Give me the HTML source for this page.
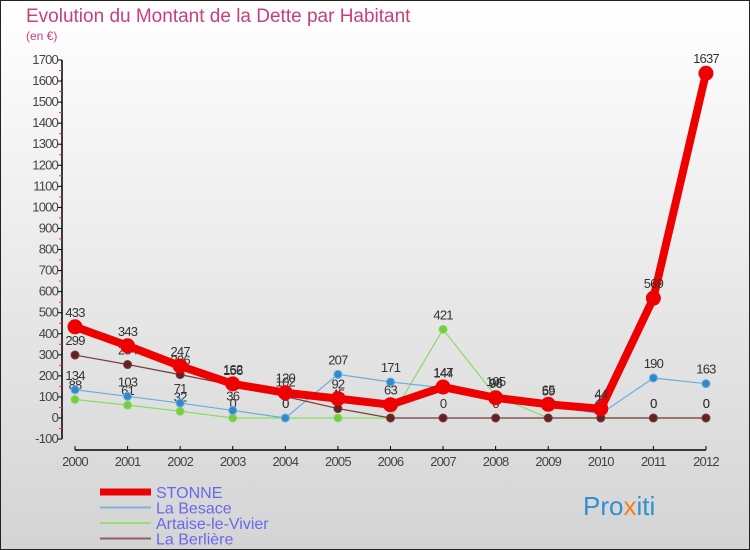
<!DOCTYPE html>
<html><head><meta charset="utf-8"><style>
body{margin:0;width:750px;height:550px;overflow:hidden;font-family:"Liberation Sans",sans-serif}
svg{display:block}
</style></head><body>
<svg width="750" height="550">
<defs><linearGradient id="bg" x1="0" y1="0" x2="0" y2="1"><stop offset="0" stop-color="#ffffff"/><stop offset="1" stop-color="#d4d4d4"/></linearGradient></defs>
<rect x="0.5" y="0.5" width="749" height="549" fill="url(#bg)" stroke="#222"/>
<text x="26" y="22" font-size="19" fill="#c8407a">Evolution du Montant de la Dette par Habitant</text>
<text x="26" y="40" font-size="12" fill="#c8407a">(en €)</text>
<g id="axes"></g>
<g id="series"></g>
<g id="legend" font-size="16" fill="#6868ee"></g>
<text x="583" y="515" font-size="26"><tspan fill="#3090d0">Pro</tspan><tspan fill="#f08020">x</tspan><tspan fill="#3090d0">iti</tspan></text>
</svg>
<script>
const years=[2000,2001,2002,2003,2004,2005,2006,2007,2008,2009,2010,2011,2012];
const stonne=[433,343,247,162,120,92,63,147,96,65,44,569,1637];
const besace=[134,103,71,36,0,207,171,144,98,59,20,190,163];
const artaise=[88,61,32,0,0,0,0,421,105,0,0,0,0];
const berliere=[299,254,206,156,102,45,0,0,0,0,0,0,0];
const yTicks=[-100,0,100,200,300,400,500,600,700,800,900,1000,1100,1200,1300,1400,1500,1600,1700];
const NS="http://www.w3.org/2000/svg";
const xS=i=>75+i*52.58;
const yS=v=>418-v*0.2106;
function mk(tag,attrs,parent,txt){const e=document.createElementNS(NS,tag);for(const k in attrs)e.setAttribute(k,attrs[k]);if(txt!==undefined)e.textContent=txt;parent.appendChild(e);return e;}
const ax=document.getElementById('axes');
let yl=mk('line',{x1:62,y1:yS(1700),x2:62,y2:yS(-100),stroke:'#000','stroke-width':1.5},ax);


yTicks.forEach(t=>{
  mk('line',{x1:58,y1:yS(t),x2:62,y2:yS(t),stroke:'#000'},ax);
  if(t<1700) mk('line',{x1:59,y1:yS(t+50),x2:62,y2:yS(t+50),stroke:'#e33'},ax);
  const tx=mk('text',{x:58,y:yS(t)+4,'text-anchor':'end','font-size':13,fill:'#444','letter-spacing':'-0.8'},ax,String(t));
  
  
});
let xl=mk('line',{x1:xS(0),y1:450,x2:xS(12),y2:450,stroke:'#000','stroke-width':1.5},ax);


years.forEach((y,i)=>{
  mk('line',{x1:xS(i),y1:446,x2:xS(i),y2:450,stroke:'#000'},ax);
  const tx=mk('text',{x:xS(i),y:466,'text-anchor':'middle','font-size':13,fill:'#444','letter-spacing':'-0.8'},ax,String(y));
  
  
});
const sg=document.getElementById('series');
function series(vals,color,dot,w,r,name){
  const g=mk('g',{},sg);
  
  
  mk('polyline',{points:vals.map((v,i)=>xS(i)+','+yS(v)).join(' '),fill:'none',stroke:color,'stroke-width':w,'stroke-linejoin':'round'},g);
  vals.forEach((v,i)=>{
    const c=mk('circle',{cx:xS(i),cy:yS(v),r:r,fill:dot,stroke:color,'stroke-width':1},g);
    
    
    const t=mk('text',{x:xS(i),y:yS(v)-10,'text-anchor':'middle','font-size':13,fill:'#333','letter-spacing':'-0.8'},g,String(v));
    
    
  });
}
series(artaise,'#88dd66','#77cc44',1.2,4,'artaise');
series(besace,'#6aaedd','#3388cc',1.2,4,'besace');
series(berliere,'#7a3a3a','#662222',1.2,4,'berliere');
series(stonne,'#ee0000','#ee0000',8,7,'stonne');
const lg=document.getElementById('legend');
const leg=[['STONNE','#ee0000',7],['La Besace','#80b0d8',2],['Artaise-le-Vivier','#99dd77',2],['La Berlière','#906060',2]];
leg.forEach((l,i)=>{
  const y=492+i*15.5;
  const ln=mk('line',{x1:100,y1:y,x2:151,y2:y,stroke:l[1],'stroke-width':l[2]},lg);
  
  
  const t=mk('text',{x:156,y:y+6},lg,l[0]);
  
  
});
</script>
</body></html>
